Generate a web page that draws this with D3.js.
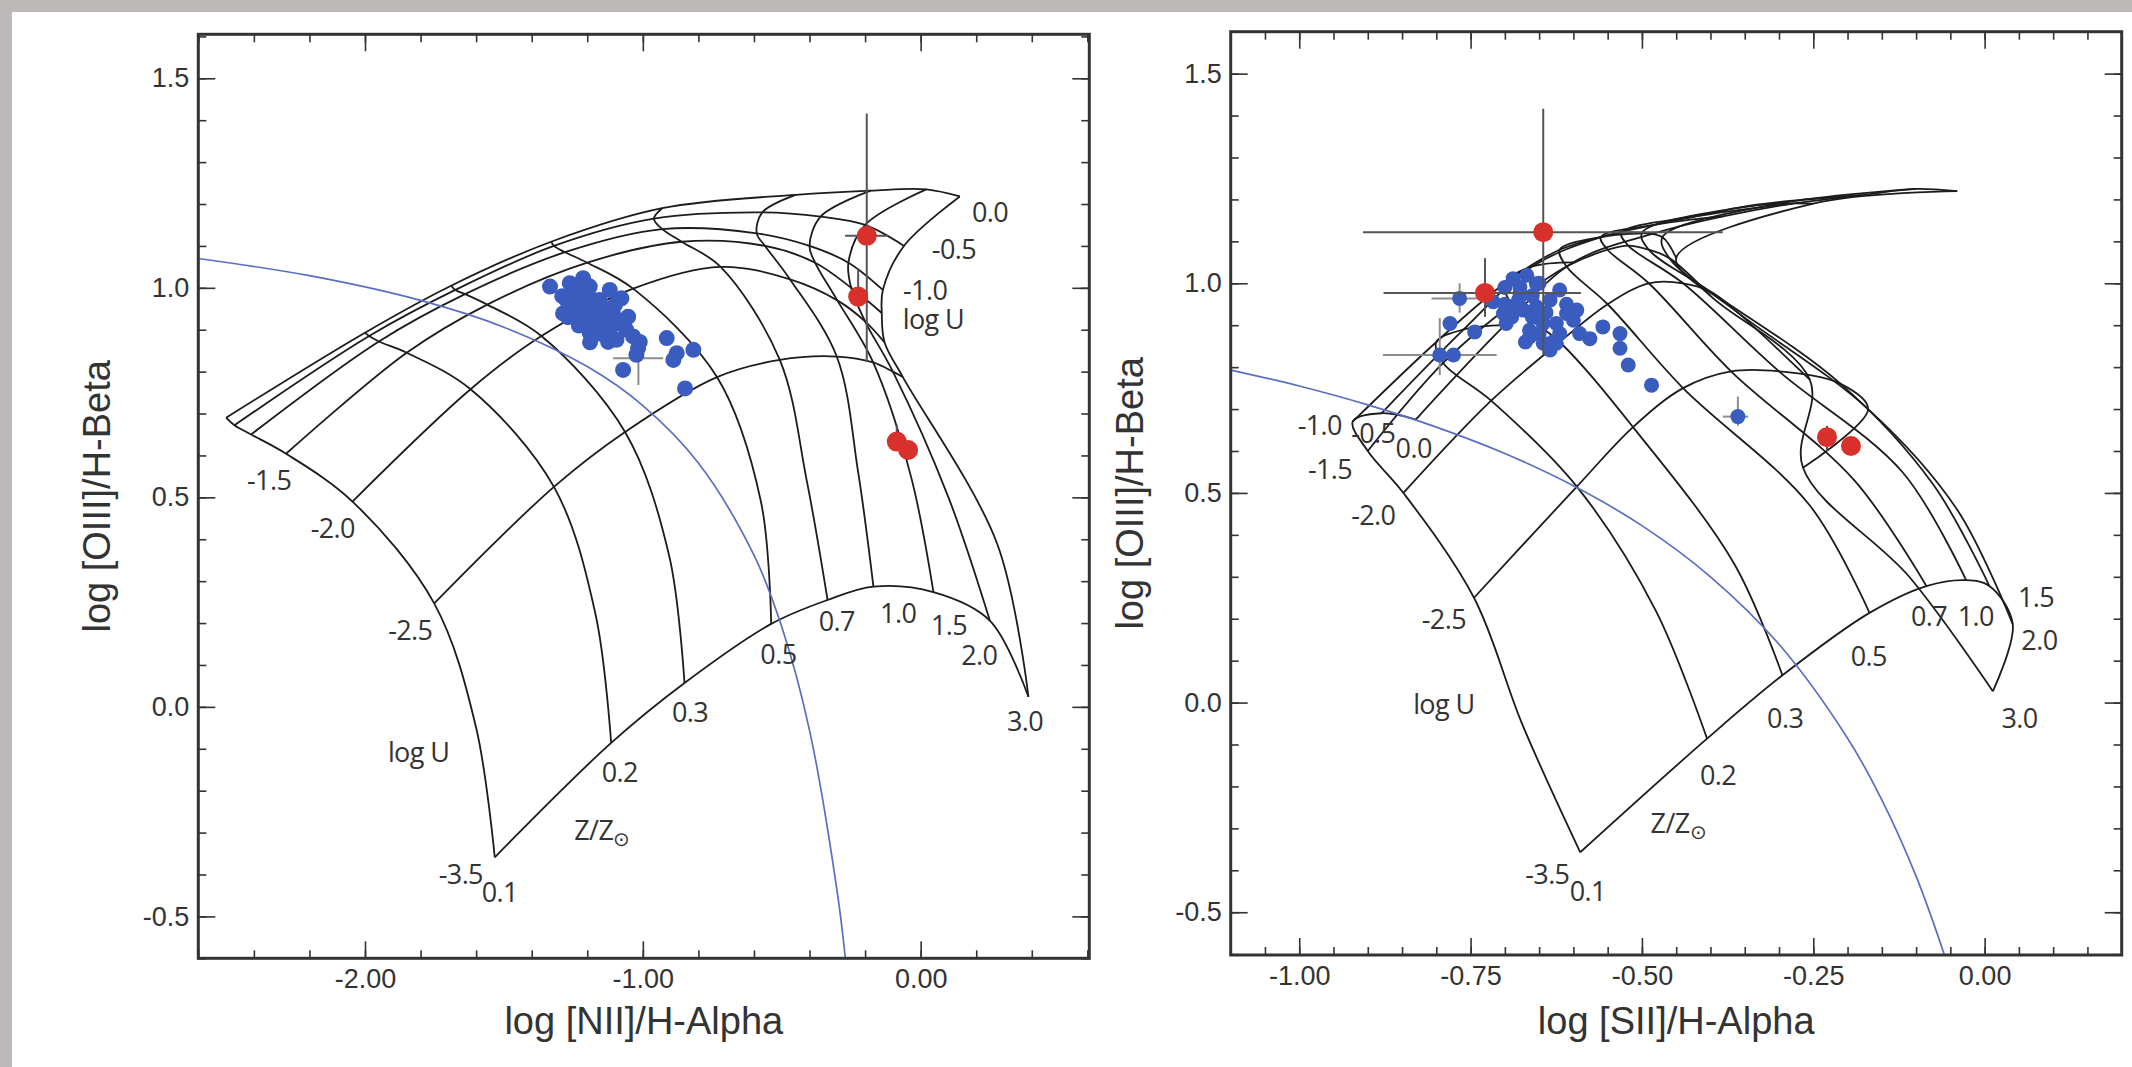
<!DOCTYPE html>
<html>
<head>
<meta charset="utf-8">
<script src="https://d3js.org/d3.v7.min.js"></script>
<style>
  html, body { margin: 0; padding: 0; background: #bcb8b8; }
  svg { display: block; }
  .tick text { font-family: "Liberation Sans", Arial, sans-serif; font-size: 27px; fill: #333; }
  .tick line { stroke: #333; stroke-width: 1.6; }
  .title { font-family: "Liberation Sans", Arial, sans-serif; font-size: 38px; fill: #333; }
  .glabel { font-family: "Open Sans", sans-serif; font-size: 27px; fill: #333; letter-spacing: -0.6px; }
</style>
</head>
<body>
<div id="chart"></div>
<script>
/**
 * Data
 */
var zVals = [0.1, 0.2, 0.3, 0.5, 0.7, 1.0, 1.5, 2.0, 3.0];
// -3.0 is a model node only, its line is not drawn in the figure
var logUVals = [-3.5, -3.0, -2.5, -2.0, -1.5, -1.0, -0.5, 0.0];
var logUDrawn = [true, false, true, true, true, true, true, true];

// model grid, [NII] panel: one row per Z, one [x, y] per log U
var niiGrid = [
  [[-1.533, -0.359], [-1.60, -0.05], [-1.751, 0.247], [-2.045, 0.49], [-2.284, 0.604], [-2.41, 0.65], [-2.47, 0.672], [-2.50, 0.69]],
  [[-1.114, -0.086], [-1.17, 0.22], [-1.32, 0.525], [-1.62, 0.758], [-1.85, 0.845], [-1.95, 0.872], [-1.985, 0.885], [-2.0, 0.893]],
  [[-0.85, 0.057], [-0.905, 0.36], [-1.064, 0.656], [-1.365, 0.885], [-1.56, 0.96], [-1.64, 0.985], [-1.675, 0.995], [-1.69, 1.005]],
  [[-0.538, 0.198], [-0.575, 0.49], [-0.733, 0.787], [-1.035, 0.998], [-1.20, 1.06], [-1.28, 1.085], [-1.32, 1.10], [-1.33, 1.11]],
  [[-0.335, 0.255], [-0.41, 0.54], [-0.507, 0.828], [-0.72, 1.05], [-0.86, 1.11], [-0.93, 1.14], [-0.96, 1.165], [-0.93, 1.19]],
  [[-0.17, 0.287], [-0.225, 0.56], [-0.302, 0.836], [-0.47, 1.02], [-0.56, 1.10], [-0.59, 1.13], [-0.57, 1.18], [-0.45, 1.222]],
  [[0.046, 0.274], [-0.035, 0.55], [-0.171, 0.822], [-0.30, 0.97], [-0.38, 1.06], [-0.40, 1.10], [-0.36, 1.17], [-0.18, 1.232]],
  [[0.249, 0.206], [0.10, 0.50], [-0.10, 0.80], [-0.20, 0.92], [-0.25, 1.00], [-0.26, 1.06], [-0.20, 1.15], [0.02, 1.235]],
  [[0.388, 0.024], [0.275, 0.39], [-0.064, 0.787], [-0.13, 0.87], [-0.14, 0.94], [-0.136, 0.995], [-0.06, 1.10], [0.141, 1.218]]
];

// model grid, [SII] panel
var siiGrid = [
  [[-0.59, -0.357], [-0.675, -0.05], [-0.745, 0.25], [-0.848, 0.50], [-0.90, 0.60], [-0.922, 0.67], [-0.88, 0.69], [-0.83, 0.675]],
  [[-0.405, -0.086], [-0.48, 0.22], [-0.595, 0.515], [-0.72, 0.72], [-0.79, 0.81], [-0.80, 0.86], [-0.76, 0.89], [-0.70, 0.90]],
  [[-0.295, 0.065], [-0.365, 0.33], [-0.513, 0.657], [-0.62, 0.86], [-0.69, 0.95], [-0.70, 1.0], [-0.66, 1.04], [-0.60, 1.05]],
  [[-0.168, 0.214], [-0.255, 0.47], [-0.44, 0.75], [-0.55, 0.95], [-0.61, 1.04], [-0.62, 1.08], [-0.56, 1.11], [-0.48, 1.12]],
  [[-0.085, 0.278], [-0.19, 0.53], [-0.37, 0.79], [-0.49, 1.0], [-0.55, 1.08], [-0.56, 1.11], [-0.48, 1.14], [-0.38, 1.16]],
  [[-0.027, 0.292], [-0.12, 0.55], [-0.30, 0.79], [-0.44, 1.0], [-0.52, 1.09], [-0.53, 1.12], [-0.42, 1.16], [-0.28, 1.19]],
  [[0.007, 0.278], [-0.075, 0.52], [-0.21, 0.76], [-0.40, 0.98], [-0.49, 1.08], [-0.50, 1.12], [-0.36, 1.18], [-0.18, 1.21]],
  [[0.041, 0.187], [-0.04, 0.46], [-0.17, 0.70], [-0.36, 0.93], [-0.46, 1.06], [-0.47, 1.11], [-0.30, 1.19], [-0.10, 1.225]],
  [[0.012, 0.027], [-0.11, 0.30], [-0.265, 0.56], [-0.255, 0.77], [-0.40, 0.97], [-0.45, 1.06], [-0.25, 1.19], [-0.04, 1.22]]
];

// demarcation curves (blue)
var niiDemarc = [[-2.6, 1.070], [-2.2, 1.029], [-1.8, 0.970], [-1.5, 0.906], [-1.2, 0.812], [-1.0, 0.719],
  [-0.8, 0.582], [-0.6, 0.362], [-0.5, 0.191], [-0.4, -0.056], [-0.3, -0.443], [-0.271, -0.6]];
var siiDemarc = [[-1.1, 0.793], [-1.0, 0.755], [-0.9, 0.710], [-0.8, 0.657], [-0.7, 0.594], [-0.6, 0.517],
  [-0.5, 0.422], [-0.4, 0.300], [-0.3, 0.139], [-0.2, -0.085], [-0.15, -0.232], [-0.1, -0.414], [-0.059, -0.6]];

// observed regions (blue)
var niiBlueX = [-1.334, -1.215, -1.239, -1.275, -1.203, -1.287, -1.239, -1.179, -1.119, -1.077, -1.227, -1.191,
  -1.155, -1.119, -1.125, -1.083, -1.053, -1.095, -1.035, -1.011, -1.023, -0.914, -0.878, -0.818, -0.890, -1.071,
  -0.848, -1.251, -1.191, -1.155, -1.263, -1.107, -1.179, -1.017,
  -1.25, -1.22, -1.20, -1.17, -1.14, -1.23, -1.26, -1.16, -1.13, -1.10, -1.29, -1.21, -1.19, -1.15, -1.27, -1.06];
var niiBlueY = [1.003, 1.023, 0.995, 0.971, 0.979, 0.939, 0.947, 0.955, 0.995, 0.975, 0.915, 0.892,
  0.923, 0.900, 0.871, 0.915, 0.931, 0.876, 0.884, 0.871, 0.840, 0.880, 0.844, 0.852, 0.828, 0.804,
  0.760, 0.963, 1.003, 0.971, 1.011, 0.939, 0.923, 0.856,
  0.99, 0.96, 0.93, 0.97, 0.95, 0.91, 0.95, 0.90, 0.92, 0.96, 0.98, 1.00, 0.87, 0.89, 0.93, 0.90];
var siiBlueX = [-0.766, -0.780, -0.744, -0.795, -0.775, -0.717, -0.698, -0.688, -0.668, -0.654, -0.678, -0.693,
  -0.673, -0.654, -0.634, -0.664, -0.644, -0.625, -0.625, -0.644, -0.634, -0.664, -0.610, -0.595, -0.600, -0.591,
  -0.576, -0.557, -0.532, -0.532, -0.520, -0.486, -0.360, -0.702, -0.620, -0.678,
  -0.70, -0.68, -0.66, -0.64, -0.66, -0.69, -0.65, -0.62, -0.61, -0.67, -0.63, -0.65, -0.70];
var siiBlueY = [0.964, 0.904, 0.884, 0.829, 0.829, 0.956, 0.904, 1.011, 1.019, 0.999, 0.976, 0.944,
  0.936, 0.944, 0.960, 0.888, 0.904, 0.904, 0.857, 0.857, 0.841, 0.872, 0.928, 0.936, 0.912, 0.880,
  0.868, 0.896, 0.880, 0.845, 0.805, 0.757, 0.682, 0.928, 0.984, 0.991,
  0.99, 0.96, 0.97, 0.93, 0.92, 0.92, 0.88, 0.88, 0.95, 0.86, 0.86, 1.00, 0.95];

// blue error bars: x, y, xlo, xhi, ylo, yhi
var niiBlueErr = [[-1.016, 0.832, -1.107, -0.927, 0.768, 0.89]];
var siiBlueErr = [[-0.795, 0.829, -0.878, -0.712, 0.781, 0.917], [-0.766, 0.964, -0.807, -0.741, 0.93, 1.0],
  [-0.360, 0.682, -0.382, -0.345, 0.66, 0.73]];

// red points: x, y, xlo, xhi, ylo, yhi
var niiRed = [[-0.194, 1.124, -0.272, -0.117, 0.823, 1.416], [-0.225, 0.979, -0.225, -0.225, 0.96, 1.047],
  [-0.086, 0.633, -0.086, -0.086, 0.62, 0.673], [-0.045, 0.613, -0.045, -0.045, 0.613, 0.613]];
var siiRed = [[-0.644, 1.122, -0.907, -0.382, 0.83, 1.416], [-0.729, 0.977, -0.877, -0.589, 0.92, 1.06],
  [-0.23, 0.633, -0.23, -0.23, 0.60, 0.66], [-0.195, 0.612, -0.195, -0.195, 0.612, 0.612]];

// grid annotations: text, x, y
var niiLabels = [["0.0", 0.25, 1.18], ["-0.5", 0.12, 1.091], ["-1.0", 0.016, 0.994], ["log U", 0.046, 0.924],
  ["-1.5", -2.345, 0.539], ["-2.0", -2.116, 0.425], ["-2.5", -1.837, 0.182], ["log U", -1.807, -0.11],
  ["-3.5", -1.655, -0.399], ["0.1", -1.515, -0.443], ["0.2", -1.083, -0.156], ["0.3", -0.83, -0.013],
  ["0.5", -0.512, 0.125], ["0.7", -0.302, 0.203], ["1.0", -0.081, 0.222], ["1.5", 0.102, 0.193],
  ["2.0", 0.211, 0.122], ["3.0", 0.376, -0.034]];
var niiZsun = [-1.147, -0.294];
var siiLabels = [["-1.0", -0.970, 0.661], ["-0.5", -0.892, 0.641], ["0.0", -0.833, 0.607], ["-1.5", -0.955, 0.555],
  ["-2.0", -0.892, 0.446], ["-2.5", -0.789, 0.198], ["log U", -0.789, -0.005], ["-3.5", -0.638, -0.411],
  ["0.1", -0.579, -0.451], ["0.2", -0.389, -0.175], ["0.3", -0.291, -0.037], ["0.5", -0.169, 0.109],
  ["0.7", -0.081, 0.206], ["1.0", -0.013, 0.206], ["1.5", 0.075, 0.250], ["2.0", 0.080, 0.149],
  ["3.0", 0.051, -0.037]];
var siiZsun = [-0.447, -0.289];

var yMajor = [-0.5, 0.0, 0.5, 1.0, 1.5];

/**
 * Globals
 */
var W = 2132;
var H = 1067;

var svg = d3
  .select("#chart")
  .append("svg")
  .attr("width", W)
  .attr("height", H);

// white sheet on the grey page
svg.append("rect")
  .attr("x", 12)
  .attr("y", 12)
  .attr("width", W - 12)
  .attr("height", H - 12)
  .attr("fill", "#fff");

var panels = [
  {
    name: "nii",
    x: d3.scaleLinear().domain([-2.6, 0.607]).range([198.3, 1089.3]),
    y: d3.scaleLinear().domain([-0.6, 1.605]).range([958.3, 34.3]),
    xMajor: [-2, -1, 0],
    xMinor: d3.range(-13, 4).map(function (i) { return i * 0.2; }),
    xTitle: "log [NII]/H-Alpha",
    yTitleX: 110,
    grid: niiGrid,
    demarc: niiDemarc,
    blueX: niiBlueX,
    blueY: niiBlueY,
    blueR: 8,
    blueErr: niiBlueErr,
    red: niiRed,
    labels: niiLabels,
    zsun: niiZsun
  },
  {
    name: "sii",
    x: d3.scaleLinear().domain([-1.1, 0.2]).range([1230.7, 2121.7]),
    y: d3.scaleLinear().domain([-0.602, 1.6]).range([955, 31.7]),
    xMajor: [-1, -0.75, -0.5, -0.25, 0],
    xMinor: d3.range(-22, 5).map(function (i) { return i * 0.05; }),
    xTitle: "log [SII]/H-Alpha",
    yTitleX: 1143,
    grid: siiGrid,
    demarc: siiDemarc,
    blueX: siiBlueX,
    blueY: siiBlueY,
    blueR: 7.5,
    blueErr: siiBlueErr,
    red: siiRed,
    labels: siiLabels,
    zsun: siiZsun
  }
];

var yMinor = d3.range(-6, 17).map(function (i) { return i * 0.1; });

panels.forEach(drawPanel);

/**
 * Draw one diagnostic panel
 */
function drawPanel(p) {
  var x = p.x;
  var y = p.y;
  var x0 = x.range()[0], x1 = x.range()[1];
  var y0 = y.range()[1], y1 = y.range()[0];
  var g = svg.append("g").attr("class", p.name);

  var clipId = "clip-" + p.name;
  g.append("clipPath")
    .attr("id", clipId)
    .append("rect")
    .attr("x", x0)
    .attr("y", y0)
    .attr("width", x1 - x0)
    .attr("height", y1 - y0);

  var line = d3.line()
    .x(function (d) { return x(d[0]); })
    .y(function (d) { return y(d[1]); })
    .curve(d3.curveCatmullRom.alpha(0.5));

  var plot = g.append("g").attr("clip-path", "url(#" + clipId + ")");

  // model grid: constant Z and constant log U
  var gridG = plot.append("g")
    .attr("fill", "none")
    .attr("stroke", "#1c1c1c")
    .attr("stroke-width", 1.8);

  gridG.selectAll(".zline")
    .data(p.grid)
    .enter()
    .append("path")
    .attr("class", "zline")
    .attr("d", line);

  var uRows = logUVals
    .map(function (u, j) {
      return p.grid.map(function (row) { return row[j]; });
    })
    .filter(function (r, j) { return logUDrawn[j]; });
  gridG.selectAll(".uline")
    .data(uRows)
    .enter()
    .append("path")
    .attr("class", "uline")
    .attr("d", line);

  // demarcation curve
  plot.append("path")
    .datum(p.demarc)
    .attr("fill", "none")
    .attr("stroke", "#5a6ec6")
    .attr("stroke-width", 1.7)
    .attr("d", line);

  // error bars of the blue sample
  drawErr(plot, p.blueErr, x, y, "#8d8d8d");

  // blue points
  plot.selectAll(".blue")
    .data(p.blueX)
    .enter()
    .append("circle")
    .attr("class", "blue")
    .attr("cx", function (d) { return x(d); })
    .attr("cy", function (d, i) { return y(p.blueY[i]); })
    .attr("r", p.blueR)
    .attr("fill", "#3a5cbf");

  // red points
  drawErr(plot, p.red, x, y, "#555");
  plot.selectAll(".red")
    .data(p.red)
    .enter()
    .append("circle")
    .attr("class", "red")
    .attr("cx", function (d) { return x(d[0]); })
    .attr("cy", function (d) { return y(d[1]); })
    .attr("r", 10)
    .attr("fill", "#d8302a");

  // grid annotations
  g.selectAll(".glabel")
    .data(p.labels)
    .enter()
    .append("text")
    .attr("class", "glabel")
    .attr("x", function (d) { return x(d[1]); })
    .attr("y", function (d) { return y(d[2]); })
    .attr("dy", "0.35em")
    .attr("text-anchor", "middle")
    .text(function (d) { return d[0]; });

  var zs = g.append("text")
    .attr("class", "glabel")
    .attr("x", x(p.zsun[0]))
    .attr("y", y(p.zsun[1]))
    .attr("dy", "0.35em")
    .attr("text-anchor", "middle");
  zs.append("tspan").text("Z/Z");
  zs.append("tspan").attr("dy", "6").attr("font-size", "20px").text("\u2299");

  // axes: major ticks with labels, minor ticks, mirrored on top/right
  var fmtX = function (d) { return d.toFixed(2); };
  var fmtY = function (d) { return d.toFixed(1); };

  g.append("g")
    .attr("transform", "translate(0," + y1 + ")")
    .call(d3.axisBottom(x).tickValues(p.xMinor).tickSize(-8).tickFormat(""));
  g.append("g")
    .attr("transform", "translate(0," + y1 + ")")
    .call(d3.axisBottom(x).tickValues(p.xMajor).tickSize(-17).tickPadding(11).tickFormat(fmtX));
  g.append("g")
    .attr("transform", "translate(0," + y0 + ")")
    .call(d3.axisTop(x).tickValues(p.xMinor).tickSize(-8).tickFormat(""));
  g.append("g")
    .attr("transform", "translate(0," + y0 + ")")
    .call(d3.axisTop(x).tickValues(p.xMajor).tickSize(-17).tickFormat(""));

  g.append("g")
    .attr("transform", "translate(" + x0 + ",0)")
    .call(d3.axisLeft(y).tickValues(yMinor).tickSize(-8).tickFormat(""));
  g.append("g")
    .attr("transform", "translate(" + x0 + ",0)")
    .call(d3.axisLeft(y).tickValues(yMajor).tickSize(-17).tickPadding(9).tickFormat(fmtY));
  g.append("g")
    .attr("transform", "translate(" + x1 + ",0)")
    .call(d3.axisRight(y).tickValues(yMinor).tickSize(-8).tickFormat(""));
  g.append("g")
    .attr("transform", "translate(" + x1 + ",0)")
    .call(d3.axisRight(y).tickValues(yMajor).tickSize(-17).tickFormat(""));

  g.selectAll(".domain").remove();
  g.selectAll(".tick text").attr("font-family", null).attr("font-size", null).attr("fill", null);

  // frame
  g.append("rect")
    .attr("x", x0)
    .attr("y", y0)
    .attr("width", x1 - x0)
    .attr("height", y1 - y0)
    .attr("fill", "none")
    .attr("stroke", "#333")
    .attr("stroke-width", 3);

  // axis titles
  g.append("text")
    .attr("class", "title")
    .attr("x", (x0 + x1) / 2)
    .attr("y", 1034)
    .attr("text-anchor", "middle")
    .text(p.xTitle);

  g.append("text")
    .attr("class", "title")
    .attr("transform", "translate(" + p.yTitleX + "," + (y0 + y1) / 2 + ") rotate(-90)")
    .attr("text-anchor", "middle")
    .text("log [OIII]/H-Beta");
}

/**
 * Draw cross-shaped error bars
 */
function drawErr(sel, rows, x, y, color) {
  var eg = sel.append("g").attr("stroke", color).attr("stroke-width", 2);
  rows.forEach(function (d) {
    if (d[2] !== d[3]) {
      eg.append("line")
        .attr("x1", x(d[2])).attr("x2", x(d[3]))
        .attr("y1", y(d[1])).attr("y2", y(d[1]));
    }
    if (d[4] !== d[5]) {
      eg.append("line")
        .attr("x1", x(d[0])).attr("x2", x(d[0]))
        .attr("y1", y(d[4])).attr("y2", y(d[5]));
    }
  });
}
</script>
</body>
</html>
